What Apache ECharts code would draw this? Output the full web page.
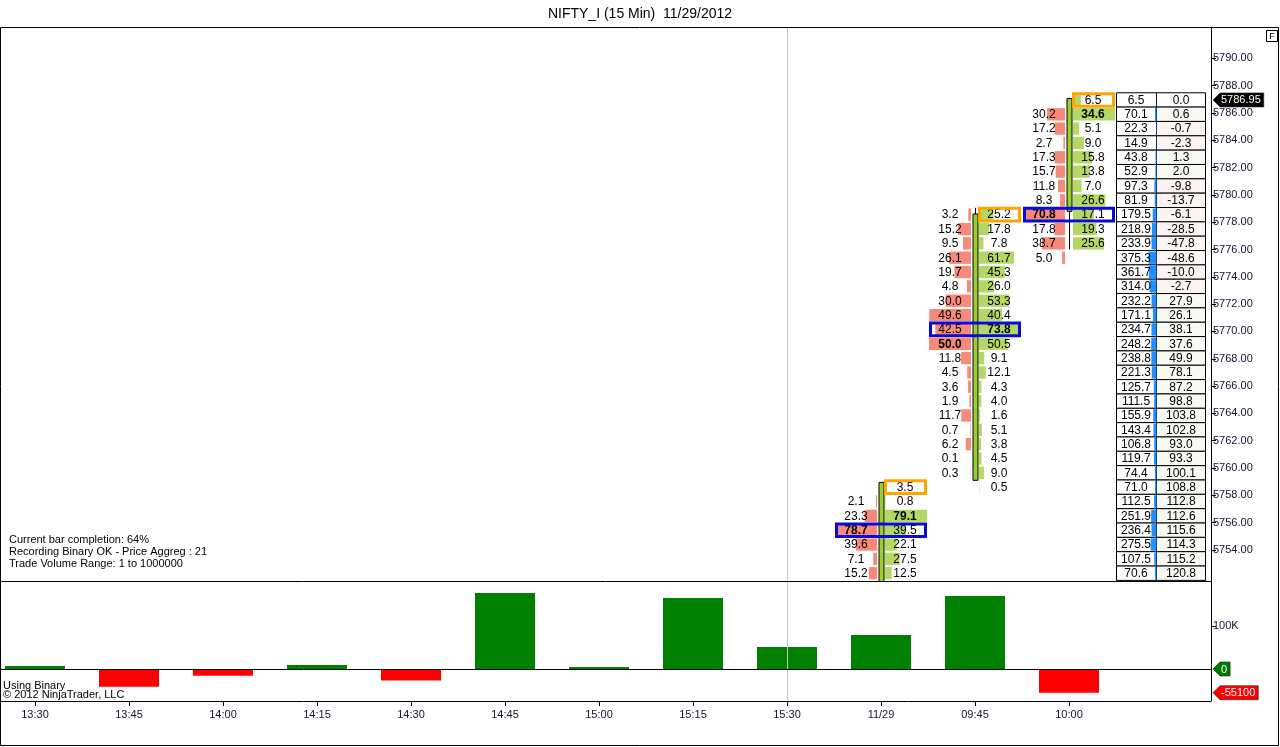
<!DOCTYPE html>
<html><head><meta charset="utf-8">
<script src="https://cdn.jsdelivr.net/npm/echarts@6/dist/echarts.min.js"></script>
<style>html,body{margin:0;padding:0;background:#fff}#c{width:1280px;height:747px}</style>
</head><body><div id="c"></div>
<script>
// ---------- DATA ----------
const times = ['13:30','13:45','14:00','14:15','14:30','14:45','15:00','15:15','15:30','11/29','09:45','10:00'];
const tableSlot = 12; // slot to the right of the last bar, holding the volume-profile table
const deltaVolume = [7000,-41000,-15500,9300,-27000,177000,4600,165000,51000,79000,170000,-55100];

const priceLevels = [5786.95,5785.90,5784.85,5783.80,5782.75,5781.70,5780.65,5779.60,5778.55,5777.50,
  5776.45,5775.40,5774.35,5773.30,5772.25,5771.20,5770.15,5769.10,5768.05,5767.00,
  5765.95,5764.90,5763.85,5762.80,5761.75,5760.70,5759.65,5758.60,5757.55,5756.50,
  5755.45,5754.40,5753.35,5752.30];

// footprint of bar 11/29 (rows from its top price downward)
const fp1129Top = 5758.60;
const fp1129Bid = [null,2.1,23.3,78.7,39.6,7.1,15.2];
const fp1129Ask = [3.5,0.8,79.1,39.5,22.1,27.5,12.5];
const fp1129High = 5758.60, fp1129Poc = 5755.45;
// footprint of bar 09:45
const fp0945Top = 5778.55;
const fp0945Bid = [3.2,15.2,9.5,26.1,19.7,4.8,30.0,49.6,42.5,50.0,11.8,4.5,3.6,1.9,11.7,0.7,6.2,0.1,0.3,null];
const fp0945Ask = [25.2,17.8,7.8,61.7,45.3,26.0,53.3,40.4,73.8,50.5,9.1,12.1,4.3,4.0,1.6,5.1,3.8,4.5,9.0,0.5];
const fp0945High = 5778.55, fp0945Poc = 5770.15;
// footprint of bar 10:00
const fp1000Top = 5786.95;
const fp1000Bid = [null,30.2,17.2,2.7,17.3,15.7,11.8,8.3,70.8,17.8,38.7,5.0];
const fp1000Ask = [6.5,34.6,5.1,9.0,15.8,13.8,7.0,26.6,17.1,19.3,25.6,null];
const fp1000High = 5786.95, fp1000Poc = 5778.55;

// candles [open, close, low, high]
const candle1129 = [5745.00, 5758.95, 5744.00, 5758.95];
const candle0945 = [5759.10, 5778.60, 5759.10, 5779.05];
const candle1000 = [5778.80, 5787.05, 5776.00, 5787.10];

// volume profile table (per price level)
const profileVolume = [6.5,70.1,22.3,14.9,43.8,52.9,97.3,81.9,179.5,218.9,233.9,375.3,361.7,314.0,232.2,171.1,
  234.7,248.2,238.8,221.3,125.7,111.5,155.9,143.4,106.8,119.7,74.4,71.0,112.5,251.9,236.4,275.5,107.5,70.6];
const profileDelta = [0.0,0.6,-0.7,-2.3,1.3,2.0,-9.8,-13.7,-6.1,-28.5,-47.8,-48.6,-10.0,-2.7,27.9,26.1,
  38.1,37.6,49.9,78.1,87.2,98.8,103.8,102.8,93.0,93.3,100.1,108.8,112.8,112.6,115.6,114.3,115.2,120.8];

const priceTicks = [5754,5756,5758,5760,5762,5764,5766,5768,5770,5772,5774,5776,5778,5780,5782,5784,5786,5788,5790];
const volumeTicks = [100000];
const lastPrice = 5786.95;
const volumeTags = [0, -55100];

// ---------- CHART ----------
const FONT = '"Liberation Sans", Arial, sans-serif';
const BIDC = '#f7897a', ASKC = '#b3d866';
const chart = echarts.init(document.getElementById('c'));

const measureCtx = document.createElement('canvas').getContext('2d');
function textW(t, f) { measureCtx.font = f; return measureCtx.measureText(t).width; }

const slotIdx = times.map((t, i) => i);

const footCols = [
  {t:'11/29', top:fp1129Top, bid:fp1129Bid, ask:fp1129Ask, high:fp1129High, poc:fp1129Poc},
  {t:'09:45', top:fp0945Top, bid:fp0945Bid, ask:fp0945Ask, high:fp0945High, poc:fp0945Poc},
  {t:'10:00', top:fp1000Top, bid:fp1000Bid, ask:fp1000Ask, high:fp1000High, poc:fp1000Poc}
];
const footData = [];
footCols.forEach(c => {
  const xi = times.indexOf(c.t);
  const start = priceLevels.indexOf(c.top);
  const maxB = Math.max(...c.bid.filter(v => v != null));
  const maxA = Math.max(...c.ask.filter(v => v != null));
  c.bid.forEach((b, j) => {
    const p = priceLevels[start + j];
    const a = c.ask[j];
    footData.push([xi, p, b == null ? '-' : b, a == null ? '-' : a, maxB, maxA, p === c.high ? 1 : 0, p === c.poc ? 1 : 0]);
  });
});

function renderFoot(params, api) {
  const xi = api.value(0), p = api.value(1), b = api.value(2), a = api.value(3);
  const maxB = api.value(4), maxA = api.value(5), hi = api.value(6), poc = api.value(7);
  const pt = api.coord([xi, p]);
  const cx = Math.round(pt[0]), cy = pt[1];
  const rowH = Math.abs(api.size([0, 1.05])[1]);
  const bh = rowH - 2;
  const W = 42;
  const ch = [];
  if (isFinite(b)) {
    const w = b / maxB * W;
    ch.push({type:'rect', shape:{x:cx-4-w, y:cy-bh/2, width:w, height:bh}, style:{fill:BIDC}});
    ch.push({type:'text', style:{text:b.toFixed(1), x:cx-25, y:cy+0.5, align:'center', verticalAlign:'middle',
      font:(b === maxB ? 'bold ' : '') + '12px ' + FONT, fill:'#000'}});
  }
  if (isFinite(a)) {
    const w = a / maxA * W;
    ch.push({type:'rect', shape:{x:cx+4, y:cy-bh/2, width:w, height:bh}, style:{fill:ASKC}});
    ch.push({type:'text', style:{text:a.toFixed(1), x:cx+24, y:cy+0.5, align:'center', verticalAlign:'middle',
      font:(a === maxA ? 'bold ' : '') + '12px ' + FONT, fill:'#000'}});
  }
  if (poc) {
    ch.push({type:'rect', shape:{x:cx-44.5, y:cy-6.3, width:89, height:12.6}, style:{fill:null, stroke:'#0a0ad8', lineWidth:3}});
  }
  if (hi) {
    ch.push({type:'rect', shape:{x:cx+4.5, y:cy-6.3, width:40, height:12.6}, style:{fill:null, stroke:'#ffa500', lineWidth:3}});
  }
  return {type:'group', children:ch};
}

const candleData = [
  [times.indexOf('11/29')].concat(candle1129),
  [times.indexOf('09:45')].concat(candle0945),
  [times.indexOf('10:00')].concat(candle1000)
];
function renderCandle(params, api) {
  const x = api.value(0), o = api.value(1), c = api.value(2), l = api.value(3), h = api.value(4);
  const pO = api.coord([x, o]), pC = api.coord([x, c]), pL = api.coord([x, l]), pH = api.coord([x, h]);
  const cx = Math.round(pO[0]) + 0.5;
  const top = Math.min(pO[1], pC[1]), bot = Math.max(pO[1], pC[1]);
  return {type:'group', children:[
    {type:'line', shape:{x1:cx, y1:pH[1], x2:cx, y2:top}, style:{stroke:'#000', lineWidth:1}},
    {type:'line', shape:{x1:cx, y1:bot, x2:cx, y2:pL[1]}, style:{stroke:'#000', lineWidth:1}},
    {type:'rect', shape:{x:cx-2.5, y:top, width:5, height:bot-top}, style:{fill:'#9acd32', stroke:'#000', lineWidth:1}}
  ]};
}

const maxProfile = Math.max(...profileVolume);
const tableData = priceLevels.map((p, i) => [tableSlot, p, profileVolume[i], profileDelta[i]]);
function renderTable(params, api) {
  const pt = api.coord([api.value(0), api.value(1)]);
  const cx = Math.round(pt[0]), cy = pt[1];
  const v = api.value(2), d = api.value(3);
  const rowH = Math.abs(api.size([0, 1.05])[1]);
  const top = cy - rowH / 2;
  const w = v / maxProfile * 8;
  const bg = d < 0 ? '#fdf3f3' : (d > 0 ? '#f7f9f2' : '#ffffff');
  return {type:'group', children:[
    {type:'rect', shape:{x:cx-46.5, y:top, width:40, height:rowH}, style:{fill:'#fff', stroke:'#000', lineWidth:1}},
    {type:'rect', shape:{x:cx-6.5, y:top, width:49, height:rowH}, style:{fill:bg, stroke:'#000', lineWidth:1}},
    {type:'rect', shape:{x:cx-6.5-w, y:top+1, width:w, height:rowH-2}, style:{fill:'#1e90ff'}},
    {type:'text', style:{text:v.toFixed(1), x:cx-27, y:cy+0.5, align:'center', verticalAlign:'middle', font:'12px ' + FONT, fill:'#000'}},
    {type:'text', style:{text:d.toFixed(1), x:cx+18, y:cy+0.5, align:'center', verticalAlign:'middle', font:'12px ' + FONT, fill:'#000'}}
  ]};
}

function makeTagRenderer(fmt, colorFn) {
  return function (params, api) {
    const val = api.value(1);
    const y = api.coord([0, val])[1];
    const cs = params.coordSys;
    const x0 = cs.x + cs.width + 2;
    const txt = fmt(val);
    const f = '11px ' + FONT;
    const w = textW(txt, f) + 11;
    const col = colorFn(val);
    return {type:'group', children:[
      {type:'polygon', shape:{points:[[x0, y], [x0+7, y-7], [x0+w, y-7], [x0+w, y+7], [x0+7, y+7]]},
        style:{fill:col, stroke:'#222', lineWidth:0.6}},
      {type:'text', style:{text:txt, x:x0+8, y:y+0.5, align:'left', verticalAlign:'middle', font:f, fill:'#fff'}}
    ]};
  };
}

// x axis: slot i is centred at 35 + 94*i px; grid spans x = 1 .. 1211
const X_MIN = -34 / 94, X_MAX = 1176 / 94;
const xAxisBase = {type: 'value', min: X_MIN, max: X_MAX, splitLine: {show: false}};

const option = {
  animation: false,
  backgroundColor: '#fff',
  title: {text: 'NIFTY_I (15 Min)  11/29/2012', left: 'center', top: 2,
    textStyle: {fontSize: 14, fontWeight: 'normal', color: '#000', fontFamily: FONT}},
  grid: [
    {left: 1, top: 27, width: 1210, height: 554},
    {left: 1, top: 581, width: 1210, height: 120}
  ],
  xAxis: [
    Object.assign({gridIndex: 0, show: false}, xAxisBase),
    Object.assign({gridIndex: 1,
      axisLine: {show: true, onZero: false, lineStyle: {color: '#000', width: 1}},
      axisTick: {show: true, length: 5, customValues: slotIdx, lineStyle: {color: '#000'}},
      axisLabel: {customValues: slotIdx, formatter: v => times[Math.round(v)] || '', fontSize: 11, color: '#1a1030', fontFamily: FONT, margin: 8}
    }, xAxisBase)
  ],
  yAxis: [
    {gridIndex: 0, type: 'value', position: 'right', min: 5751.73, max: 5792.29, scale: true,
      axisLine: {show: true, onZero: false, lineStyle: {color: '#000'}},
      axisTick: {show: true, length: 5, customValues: priceTicks, lineStyle: {color: '#000'}},
      axisLabel: {customValues: priceTicks, formatter: v => Number(v).toFixed(2), fontSize: 11, color: '#1a1030', fontFamily: FONT, margin: 2},
      splitLine: {show: false}},
    {gridIndex: 1, type: 'value', position: 'right', min: -74400, max: 204700,
      axisLine: {show: true, onZero: false, lineStyle: {color: '#000'}},
      axisTick: {show: true, length: 5, customValues: volumeTicks, lineStyle: {color: '#000'}},
      axisLabel: {customValues: volumeTicks, formatter: v => (v / 1000) + 'K', fontSize: 11, color: '#1a1030', fontFamily: FONT, margin: 2},
      splitLine: {show: false}}
  ],
  series: [
    {type: 'custom', xAxisIndex: 0, yAxisIndex: 0, data: candleData, renderItem: renderCandle, z: 2, clip: true,
      encode: {x: 0, y: [1, 2, 3, 4]},
      markLine: {silent: true, symbol: ['none', 'none'], label: {show: false},
        lineStyle: {color: '#c4c4c4', width: 1, type: 'solid'}, data: [{xAxis: times.indexOf('15:30')}]}},
    {type: 'custom', xAxisIndex: 0, yAxisIndex: 0, data: footData, renderItem: renderFoot, z: 3, clip: true,
      encode: {x: 0, y: 1}},
    {type: 'custom', xAxisIndex: 0, yAxisIndex: 0, data: tableData, renderItem: renderTable, z: 3, clip: true,
      encode: {x: 0, y: 1}},
    {type: 'custom', xAxisIndex: 0, yAxisIndex: 0, data: [[0, lastPrice]], z: 5, clip: false,
      renderItem: makeTagRenderer(v => v.toFixed(2), () => '#000'), encode: {x: 0, y: 1}},
    {type: 'bar', xAxisIndex: 1, yAxisIndex: 1, barWidth: 60, z: 2,
      data: deltaVolume.map((v, i) => ({value: [i, v], itemStyle: {color: v >= 0 ? '#008000' : '#ff0000'}})),
      markLine: {silent: true, symbol: ['none', 'none'], label: {show: false},
        data: [
          {xAxis: times.indexOf('15:30'), lineStyle: {color: '#c4c4c4', width: 1, type: 'solid'}},
          {yAxis: 0, lineStyle: {color: '#000', width: 1, type: 'solid'}}
        ]}},
    {type: 'custom', xAxisIndex: 1, yAxisIndex: 1, data: volumeTags.map(v => [0, v]), z: 5, clip: false,
      renderItem: makeTagRenderer(v => String(v), v => v >= 0 ? '#007a00' : '#ff0000'), encode: {x: 0, y: 1}}
  ],
  graphic: [
    {type: 'rect', shape: {x: 0.5, y: 27.5, width: 1278, height: 718}, style: {fill: null, stroke: '#000', lineWidth: 1}, z: 10},
    {type: 'line', shape: {x1: 0, y1: 581.5, x2: 1211, y2: 581.5}, style: {stroke: '#000', lineWidth: 1}, z: 10},
    {type: 'rect', shape: {x: 1266.5, y: 30.5, width: 11, height: 11}, style: {fill: '#fff', stroke: '#000', lineWidth: 1}, z: 10},
    {type: 'text', x: 1272, y: 36.5, style: {text: 'F', align: 'center', verticalAlign: 'middle', font: '9px ' + FONT, fill: '#000'}, z: 11},
    {type: 'text', x: 9, y: 540, style: {text: 'Current bar completion: 64%', verticalAlign: 'middle', font: '11px ' + FONT, fill: '#000'}, z: 10},
    {type: 'text', x: 9, y: 552, style: {text: 'Recording Binary OK - Price Aggreg : 21', verticalAlign: 'middle', font: '11px ' + FONT, fill: '#000'}, z: 10},
    {type: 'text', x: 9, y: 564, style: {text: 'Trade Volume Range: 1 to 1000000', verticalAlign: 'middle', font: '11px ' + FONT, fill: '#000'}, z: 10},
    {type: 'text', x: 3, y: 686, style: {text: 'Using Binary', verticalAlign: 'middle', font: '11px ' + FONT, fill: '#000'}, z: 10},
    {type: 'text', x: 3, y: 695, style: {text: '\u00a9 2012 NinjaTrader, LLC', verticalAlign: 'middle', font: '11px ' + FONT, fill: '#000'}, z: 10}
  ]
};
chart.setOption(option);
</script>
</body></html>
